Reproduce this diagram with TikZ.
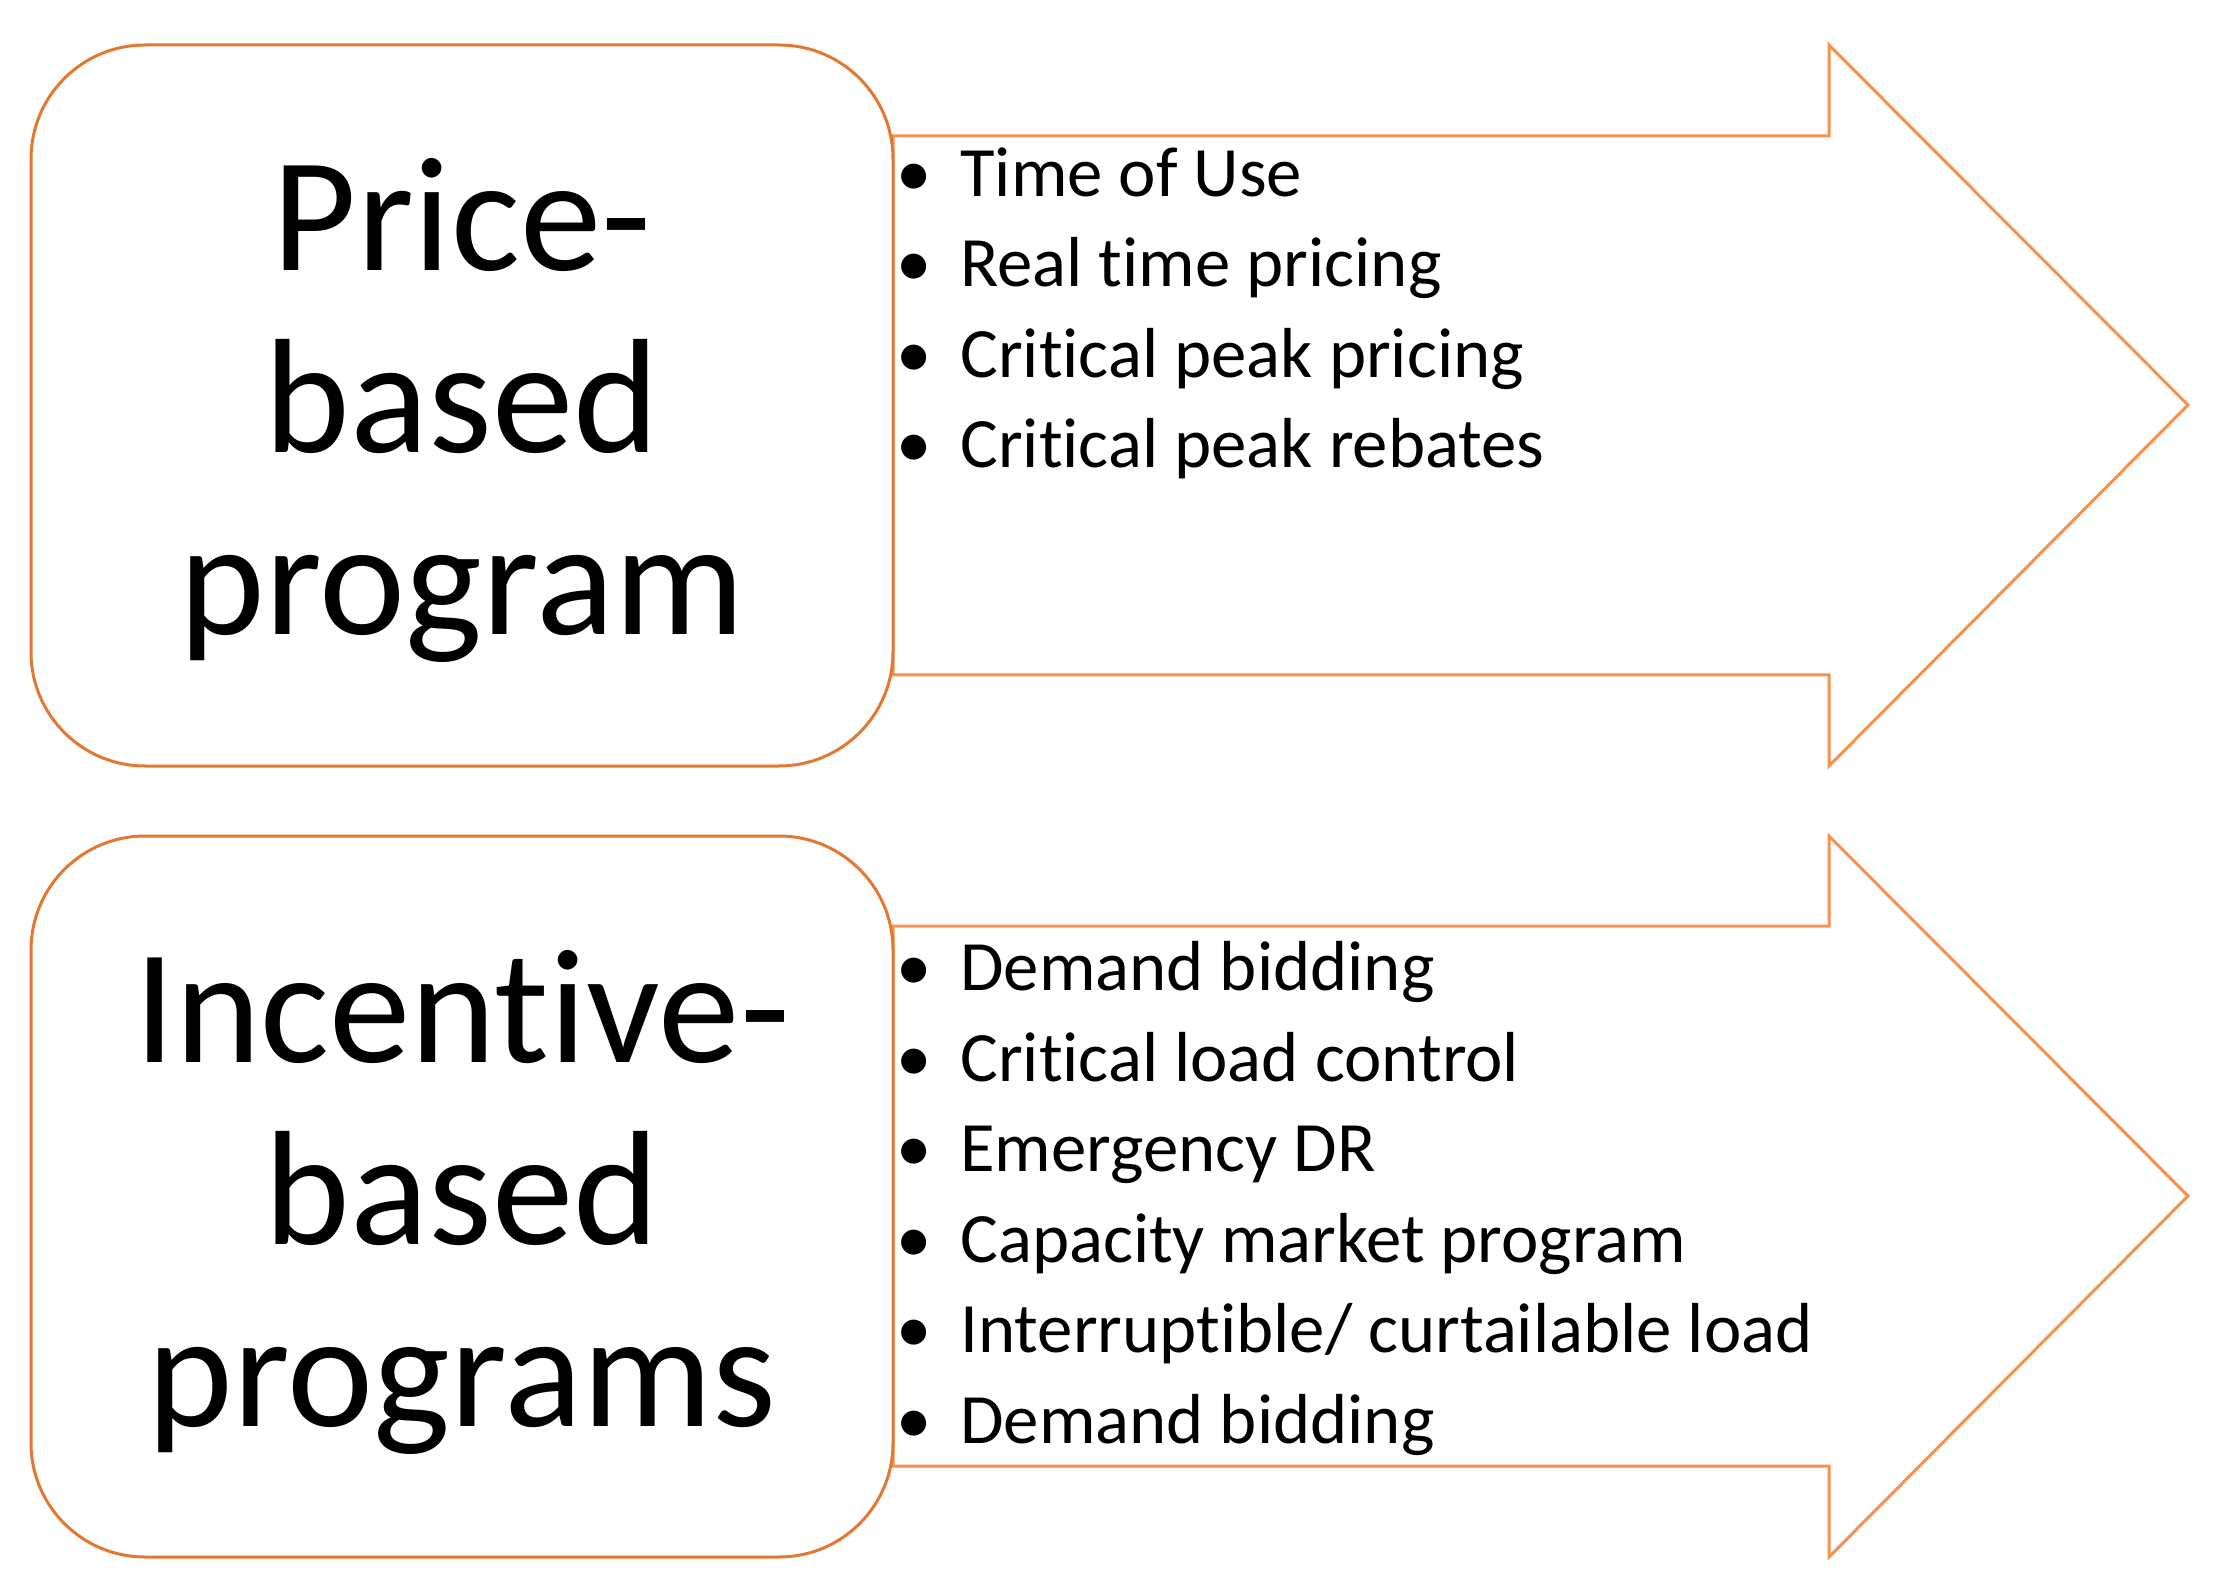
\documentclass[tikz,border=0pt]{standalone}
\usepackage{fontspec}
\setmainfont{Carlito}[Ligatures=NoCommon]
\definecolor{boxorange}{RGB}{226,120,50}
\definecolor{arroworange}{RGB}{244,146,78}
\tikzset{
  progbox/.style={draw=boxorange, line width=1.5pt, fill=white, rounded corners=57pt,
    minimum width=431pt, minimum height=360.5pt, inner sep=0pt},
  bigarrow/.style={draw=arroworange, line width=1.5pt, fill=white, line join=miter},
  bigtext/.style={font=\fontsize{81.5}{91}\selectfont, align=center, inner sep=0pt},
  listtext/.style={font=\fontsize{35.4}{45.25}\selectfont, align=left, inner sep=0pt, anchor=base west}
}
\newcommand{\itm}[1]{\makebox[0pt]{•}\hspace{23pt}#1}
\begin{document}
\begin{tikzpicture}[x=0.5pt,y=-0.5pt]
\useasboundingbox[fill=white] (0,0) rectangle (2223,1593);
% top arrow
\coordinate (a1) at (893,136);
\draw[bigarrow] (a1) -- (1829,136) -- (1829,45) -- (2188,405) -- (1829,766) -- (1829,675) -- (893,675) -- cycle;
% bottom arrow
\coordinate (a2) at (893,926);
\draw[bigarrow] (a2) -- (1829,926) -- (1829,836) -- (2188,1196) -- (1829,1557) -- (1829,1466) -- (893,1466) -- cycle;
% boxes
\node[progbox] (price) at (462,405.5) {};
\node[progbox] (incent) at (462,1196.5) {};
\node[bigtext, anchor=base] (pricetxt) at (462,635) {Price-\\based\\program};
\node[bigtext, anchor=base] (incenttxt) at (462,1426) {Incentive-\\based\\programs};
% lists
\node[listtext] (plist) at (914,468) {\itm{Time of Use}\\\itm{Real time pricing}\\\itm{Critical peak pricing}\\\itm{Critical peak rebates}};
\node[listtext] (ilist) at (914,1443) {\itm{Demand bidding}\\\itm{Critical load control}\\\itm{Emergency DR}\\\itm{Capacity market program}\\\itm{Interruptible/ curtailable load}\\\itm{Demand bidding}};
\end{tikzpicture}
\end{document}
